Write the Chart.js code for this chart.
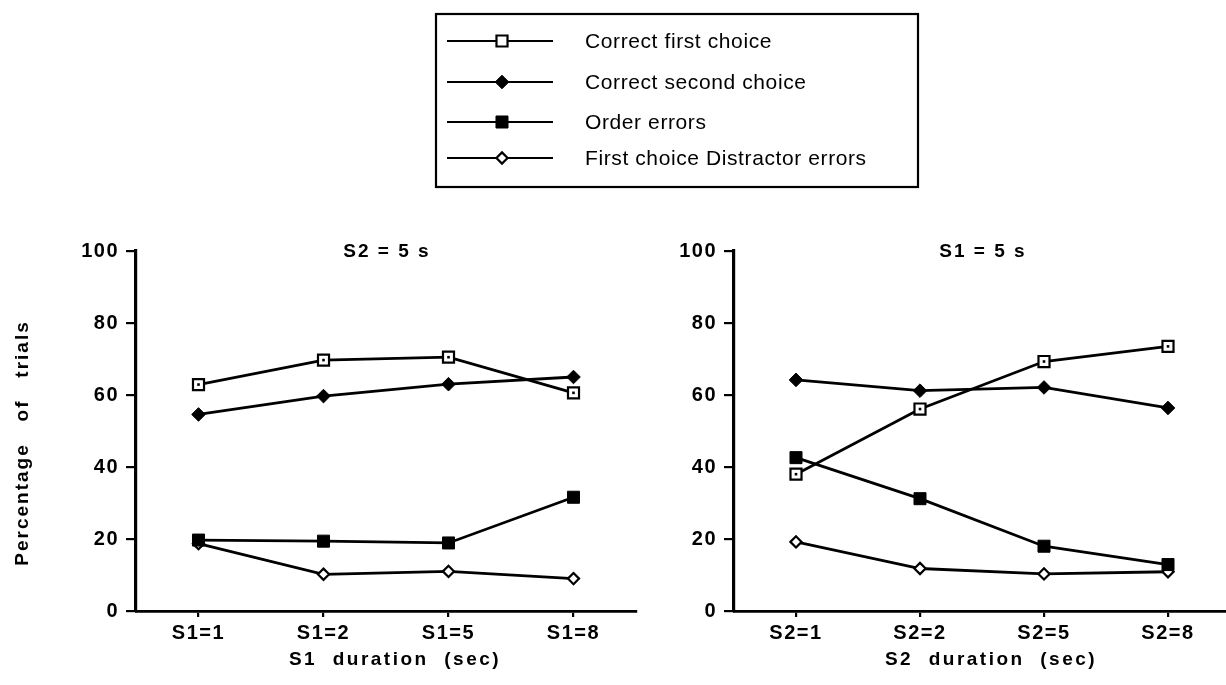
<!DOCTYPE html>
<html>
<head>
<meta charset="utf-8">
<script src="https://cdn.jsdelivr.net/npm/chart.js@4.4.1/dist/chart.umd.min.js"></script>
<style>
  html, body { margin: 0; padding: 0; background: #fff; overflow: hidden; width: 1226px; height: 685px; }
  canvas { position: absolute; top: 0; }
  #left { left: 0; }
  #right { left: 680px; }
</style>
</head>
<body>
<canvas id="left" width="1226" height="685"></canvas>
<canvas id="right" width="560" height="685"></canvas>
<script>
// Dados
const seriesNames = ['Correct first choice', 'Correct second choice', 'Order errors', 'First choice Distractor errors'];
const s1Labels = ['S1=1', 'S1=2', 'S1=5', 'S1=8'];
const s2Labels = ['S2=1', 'S2=2', 'S2=5', 'S2=8'];
const yTicks = [0, 20, 40, 60, 80, 100];

// painel esquerdo: S2 = 5 s
const leftFirst = [62.9, 69.7, 70.5, 60.6];
const leftSecond = [54.6, 59.7, 63.0, 65.0];
const leftOrder = [19.7, 19.4, 18.9, 31.6];
const leftDistr = [18.7, 10.2, 11.0, 9.0];

// painel direito: S1 = 5 s
const rightFirst = [38.0, 56.1, 69.3, 73.5];
const rightSecond = [64.2, 61.2, 62.1, 56.4];
const rightOrder = [42.6, 31.2, 18.0, 12.9];
const rightDistr = [19.2, 11.8, 10.3, 10.9];

const FONT = '"Liberation Sans", Arial, Helvetica, sans-serif';

// estilos dos marcadores (mesma ordem de seriesNames)
const markers = [
  { style: 'rect', radius: 7.8, fill: '#fff', border: 2.2 },
  { style: 'rectRot', radius: 6.8, fill: '#000', border: 1 },
  { style: 'rect', radius: 8.5, fill: '#000', border: 1 },
  { style: 'rectRot', radius: 5.6, fill: '#fff', border: 2.2 }
];

function drawMarker(ctx, m, x, y) {
  ctx.save();
  ctx.beginPath();
  if (m.style === 'rect') {
    const h = m.radius * Math.SQRT1_2;
    ctx.rect(x - h, y - h, 2 * h, 2 * h);
  } else {
    const r = m.radius;
    ctx.moveTo(x, y - r); ctx.lineTo(x + r, y); ctx.lineTo(x, y + r); ctx.lineTo(x - r, y);
    ctx.closePath();
  }
  ctx.fillStyle = m.fill;
  ctx.fill();
  ctx.lineWidth = m.border;
  ctx.strokeStyle = '#000';
  ctx.stroke();
  ctx.restore();
}

// espaçamento das letras (o texto escaneado é mais largo)
const spacing = {
  id: 'spacing',
  beforeLayout(chart) { chart.ctx.letterSpacing = '1.5px'; },
  beforeDraw(chart) { chart.ctx.letterSpacing = '1.5px'; }
};

// ponto no meio do quadrado aberto
const dots = {
  id: 'dots',
  afterDatasetsDraw(chart) {
    const ctx = chart.ctx;
    ctx.save();
    ctx.fillStyle = '#000';
    chart.getDatasetMeta(0).data.forEach(p => ctx.fillRect(p.x - 1.3, p.y - 1.3, 2.6, 2.6));
    ctx.restore();
  }
};

// títulos dentro/abaixo do painel
const panelText = {
  id: 'panelText',
  afterDraw(chart, args, opts) {
    const { ctx, chartArea: a } = chart;
    const cx = (a.left + a.right) / 2;
    ctx.save();
    ctx.fillStyle = '#000';
    ctx.textAlign = 'center';
    ctx.textBaseline = 'middle';
    ctx.font = 'bold 19px ' + FONT;
    ctx.letterSpacing = '2px';
    ctx.fillText(opts.title, cx + 1, a.top + 1);
    ctx.letterSpacing = '2.5px';
    ctx.fillText(opts.xTitle, cx + 9, 660);
    if (opts.yTitle) {
      ctx.translate(23, 443);
      ctx.rotate(-Math.PI / 2);
      ctx.letterSpacing = '2px';
      ctx.fillText(opts.yTitle, 0, 0);
    }
    ctx.restore();
  }
};

// legenda com caixa
const boxLegend = {
  id: 'boxLegend',
  afterDraw(chart) {
    const ctx = chart.ctx;
    const rows = [41, 82, 122, 158];
    ctx.save();
    ctx.strokeStyle = '#000';
    ctx.lineWidth = 2.2;
    ctx.strokeRect(436, 14, 482, 173);
    ctx.font = '21px ' + FONT;
    ctx.letterSpacing = '0.6px';
    ctx.fillStyle = '#000';
    ctx.textAlign = 'left';
    ctx.textBaseline = 'middle';
    seriesNames.forEach((name, i) => {
      const y = rows[i];
      ctx.beginPath();
      ctx.moveTo(447, y); ctx.lineTo(553, y);
      ctx.lineWidth = 2.2;
      ctx.stroke();
      drawMarker(ctx, markers[i], 502, y);
      ctx.fillText(name, 585, y + 1);
    });
    ctx.restore();
  }
};

function makeDatasets(values) {
  return values.map((data, i) => ({
    label: seriesNames[i],
    data: data,
    borderColor: '#000',
    borderWidth: 2.8,
    tension: 0,
    pointStyle: markers[i].style,
    pointRadius: markers[i].radius,
    pointBackgroundColor: markers[i].fill,
    pointBorderColor: '#000',
    pointBorderWidth: markers[i].border
  }));
}

function makePanel(canvas, labels, values, yWidth, padRight, texts, extraPlugins) {
  const tickFont = { family: FONT, size: 20, weight: 'bold' };
  return new Chart(canvas, {
    type: 'line',
    data: { labels: labels, datasets: makeDatasets(values) },
    options: {
      responsive: false,
      animation: false,
      layout: { padding: { left: 0, right: padRight, top: 251, bottom: 0 } },
      plugins: {
        legend: { display: false },
        tooltip: { enabled: false },
        panelText: texts
      },
      scales: {
        x: {
          type: 'category',
          offset: true,
          grid: { offset: false, drawOnChartArea: false, drawTicks: true, tickLength: 6, color: '#000', lineWidth: 2.2 },
          border: { display: true, color: '#000', width: 2.8 },
          ticks: { color: '#000', font: tickFont, padding: 4, maxRotation: 0, autoSkip: false },
          afterFit: s => { s.height = 74; }
        },
        y: {
          min: 0,
          max: 100,
          afterBuildTicks: s => { s.ticks = yTicks.map(v => ({ value: v })); },
          afterFit: s => { s.width = yWidth; },
          grid: { drawOnChartArea: false, drawTicks: true, tickLength: 10, color: '#000', lineWidth: 2.2 },
          border: { display: true, color: '#000', width: 3.2 },
          ticks: { color: '#000', font: tickFont, padding: 7 }
        }
      }
    },
    plugins: [spacing, dots, panelText].concat(extraPlugins)
  });
}

makePanel(document.getElementById('left'), s1Labels,
  [leftFirst, leftSecond, leftOrder, leftDistr], 136, 590,
  { title: 'S2 = 5 s', xTitle: 'S1  duration  (sec)', yTitle: 'Percentage   of   trials' },
  [boxLegend]);

makePanel(document.getElementById('right'), s2Labels,
  [rightFirst, rightSecond, rightOrder, rightDistr], 54, 6,
  { title: 'S1 = 5 s', xTitle: 'S2  duration  (sec)' },
  []);
</script>
</body>
</html>
